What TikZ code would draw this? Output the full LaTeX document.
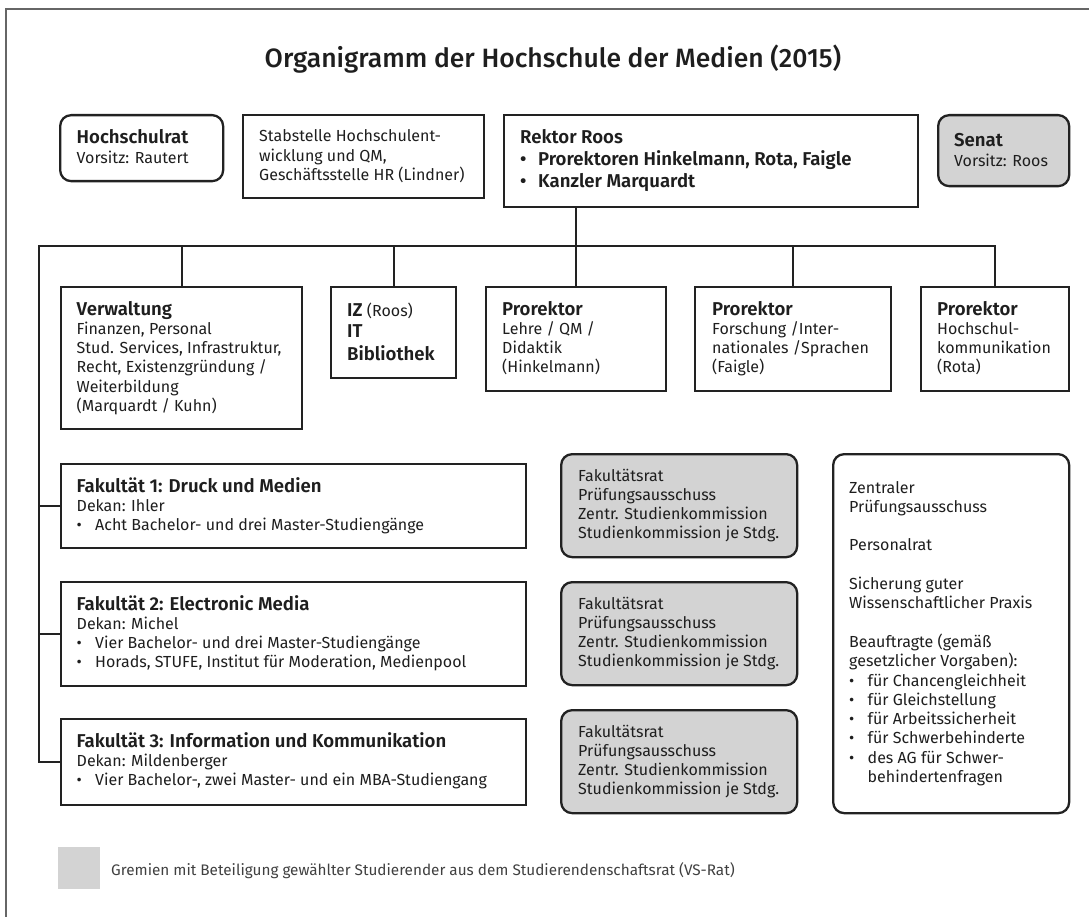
\documentclass[tikz,border=0pt]{standalone}
\usepackage{fontspec}
\setmainfont{Fira Sans}[BoldFont={Fira Sans SemiBold}]
\newfontfamily\titlefont{Fira Sans Medium}
\definecolor{ln}{HTML}{222222}
\definecolor{gf}{HTML}{D3D3D3}
\definecolor{tx}{HTML}{1E1E1E}
\newcommand\lines[1]{\begin{tabular}[t]{@{}l@{}}#1\end{tabular}}
\newcommand\hd[1]{{\fontsize{18.6}{22}\selectfont\bfseries #1}}
\newcommand\bul{\makebox[18.5pt][l]{•}}
\begin{document}
\begin{tikzpicture}[x=1pt,y=-1pt,
 box/.style={draw=ln, line width=2.3pt, inner sep=0pt, anchor=north west},
 rbox/.style={box, rounded corners=11pt},
 gbox/.style={rbox, fill=gf},
 txt/.style={anchor=base west, inner sep=0pt, text=tx, font=\fontsize{16}{19.3}\selectfont},
 conn/.style={draw=ln, line width=2.3pt},
]
\useasboundingbox (0,0) rectangle (1089,917);
\draw[line width=1.3pt, draw=gray!80!black] (6,9) rectangle (1100,930);

\node[anchor=base, inner sep=0pt, text=tx, font=\titlefont\fontsize{26.5}{30}\selectfont] (title) at (553,68) {Organigramm der Hochschule der Medien (2015)};

% boxes
\node[rbox, minimum width=163pt, minimum height=66pt] (hsr) at (59,114) {};
\node[box, minimum width=241pt, minimum height=83pt] (stab) at (242,114) {};
\node[box, minimum width=414pt, minimum height=92pt] (rektor) at (503,114) {};
\node[gbox, minimum width=131pt, minimum height=71pt] (senat) at (937,114) {};
\node[box, minimum width=241pt, minimum height=142pt] (verw) at (60,286) {};
\node[box, minimum width=125pt, minimum height=91pt] (iz) at (330,286) {};
\node[box, minimum width=180pt, minimum height=104pt] (lehre) at (485,286) {};
\node[box, minimum width=196pt, minimum height=104pt] (forsch) at (694,286) {};
\node[box, minimum width=148pt, minimum height=104pt] (komm) at (920,286) {};
\node[box, minimum width=465pt, minimum height=84pt] (fak1) at (60,463) {};
\node[box, minimum width=465pt, minimum height=104pt] (fak2) at (60,581) {};
\node[box, minimum width=465pt, minimum height=86pt] (fak3) at (60,718) {};
\node[gbox, minimum width=236pt, minimum height=103pt] (g1) at (560,453) {};
\node[gbox, minimum width=236pt, minimum height=103pt] (g2) at (560,581) {};
\node[gbox, minimum width=236pt, minimum height=103pt] (g3) at (560,709) {};
\node[rbox, minimum width=236pt, minimum height=359pt] (rb) at (832,453) {};
\node[anchor=north west, inner sep=0pt, fill=gf, minimum width=42pt, minimum height=42pt] (leg) at (58,847) {};

% connectors
\coordinate (busL) at (39,246);
\draw[conn] (lehre.north |- rektor.south) -- (lehre.north);
\draw[conn] (fak3.west) -| (busL) -| (komm.north);
\draw[conn] (busL -| verw.north) -- (verw.north);
\draw[conn] (busL -| iz.north) -- (iz.north);
\draw[conn] (busL -| forsch.north) -- (forsch.north);
\draw[conn] (fak1.west) -- (fak1.west -| busL);
\draw[conn] (fak2.west) -- (fak2.west -| busL);

% texts
\node[txt] (hsrT) at (76.5,144) {\lines{\hd{Hochschulrat}\\ Vorsitz: Rautert}};
\node[txt] (stabT) at (259,142) {\lines{Stabstelle Hochschulent-\\ wicklung und QM,\\ Geschäftsstelle HR (Lindner)}};
\node[txt, font=\fontsize{18.6}{22}\selectfont\bfseries] (rektorT) at (520,144) {\lines{Rektor Roos\\ \makebox[18pt][l]{•}Prorektoren Hinkelmann, Rota, Faigle\\ \makebox[18pt][l]{•}Kanzler Marquardt}};
\node[txt] (senatT) at (954,147) {\lines{\hd{Senat}\\ Vorsitz: Roos}};
\node[txt] (verwT) at (76.5,315) {\lines{\hd{Verwaltung}\\ Finanzen, Personal\\ Stud. Services, Infrastruktur,\\ Recht, Existenzgründung /\\ Weiterbildung\\ (Marquardt / Kuhn)}};
\node[txt] (izT) at (347,316) {\lines{\hd{IZ} (Roos)\\[2pt] \hd{IT}\\[2pt] \hd{Bibliothek}}};
\node[txt] (lehreT) at (502,315) {\lines{\hd{Prorektor}\\ Lehre / QM /\\ Didaktik\\ (Hinkelmann)}};
\node[txt] (forschT) at (712,315) {\lines{\hd{Prorektor}\\ Forschung /Inter-\\ nationales /Sprachen\\ (Faigle)}};
\node[txt] (kommT) at (937,315) {\lines{\hd{Prorektor}\\ Hochschul-\\ kommunikation\\ (Rota)}};
\node[txt] (fak1T) at (76.5,492) {\lines{\hd{Fakultät 1: Druck und Medien}\\ Dekan: Ihler\\ \bul Acht Bachelor- und drei Master-Studiengänge}};
\node[txt] (fak2T) at (76.5,610) {\lines{\hd{Fakultät 2: Electronic Media}\\ Dekan: Michel\\ \bul Vier Bachelor- und drei Master-Studiengänge\\ \bul Horads, STUFE, Institut für Moderation, Medienpool}};
\node[txt] (fak3T) at (76.5,747) {\lines{\hd{Fakultät 3: Information und Kommunikation}\\ Dekan: Mildenberger\\ \bul Vier Bachelor-, zwei Master- und ein MBA-Studiengang}};
\node[txt] (g1T) at (578,481) {\lines{Fakultätsrat\\ Prüfungsausschuss\\ Zentr. Studienkommission\\ Studienkommission je Stdg.}};
\node[txt] (g2T) at (578,609) {\lines{Fakultätsrat\\ Prüfungsausschuss\\ Zentr. Studienkommission\\ Studienkommission je Stdg.}};
\node[txt] (g3T) at (578,737) {\lines{Fakultätsrat\\ Prüfungsausschuss\\ Zentr. Studienkommission\\ Studienkommission je Stdg.}};
\node[txt] (rbT) at (849,493) {\lines{Zentraler\\ Prüfungsausschuss\\ \\ Personalrat\\ \\ Sicherung guter\\ Wissenschaftlicher Praxis\\ \\ Beauftragte (gemäß\\ gesetzlicher Vorgaben):\\ \bul für Chancengleichheit\\ \bul für Gleichstellung\\ \bul für Arbeitssicherheit\\ \bul für Schwerbehinderte\\ \bul des AG für Schwer-\\ \hspace*{18.5pt}behindertenfragen}};
\node[txt, font=\fontsize{15.3}{18}\selectfont, text=tx!85] (legT) at (111,875) {Gremien mit Beteiligung gewählter Studierender aus dem Studierendenschaftsrat (VS-Rat)};
\end{tikzpicture}
\end{document}
